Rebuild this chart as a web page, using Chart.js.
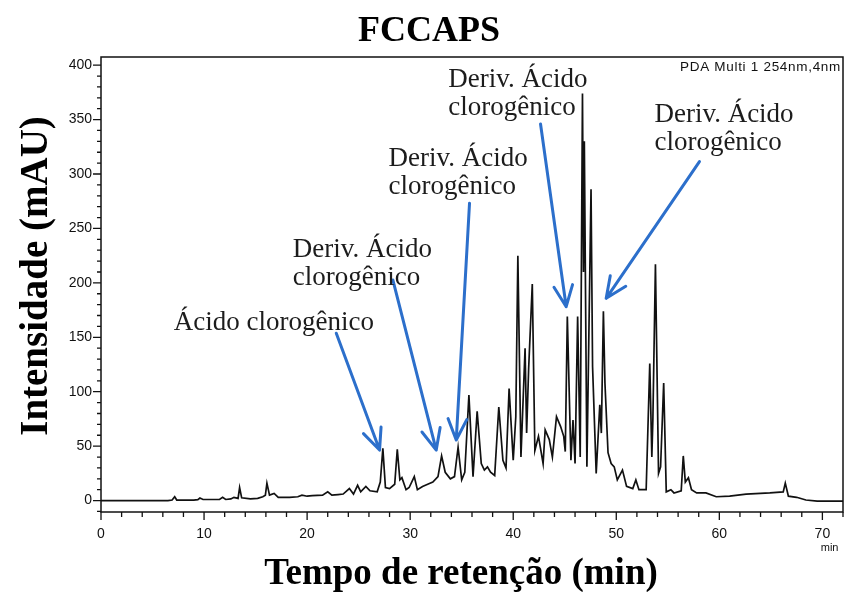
<!DOCTYPE html>
<html>
<head>
<meta charset="utf-8">
<script src="https://cdn.jsdelivr.net/npm/chart.js@4/dist/chart.umd.min.js"></script>
<style>
  html, body { margin: 0; padding: 0; background: #fff; }
  #wrap { width: 845px; height: 592px; }
</style>
</head>
<body>
<div id="wrap"><canvas id="c" width="845" height="592"></canvas></div>
<script>
// Chromatogram trace: retention time (min) and detector response (mAU)
const retentionTime = [
  0, 6.5, 6.9, 7.15, 7.35, 9.0, 9.4, 9.6, 9.9, 11.5, 11.8, 12.1, 12.6, 12.9, 13.3, 13.45, 13.65,
  14.5, 15.2, 15.7, 15.95, 16.1, 16.35, 16.8, 17.2, 18.3, 19.1, 19.5, 20.0, 20.5, 21.5, 22.0, 22.4,
  23.0, 23.5, 24.1, 24.5, 24.9, 25.2, 25.7, 26.1, 26.8, 27.1, 27.35, 27.6, 28.0, 28.5, 28.75, 29.0,
  29.2, 29.6, 29.9, 30.4, 30.7, 31.2, 31.7, 32.2, 32.7, 33.05, 33.4, 33.9, 34.3, 34.65, 35.0, 35.3,
  35.7, 36.1, 36.5, 36.9, 37.2, 37.5, 37.8, 38.2, 38.6, 39.0, 39.3, 39.6, 40.0, 40.25, 40.45, 40.75,
  41.15, 41.3, 41.5, 41.85, 42.1, 42.45, 42.9, 43.1, 43.5, 43.8, 44.2, 44.6, 44.9, 45.05, 45.25, 45.6,
  45.8, 46.0, 46.25, 46.5, 46.72, 46.82, 46.9, 47.15, 47.55, 47.7, 48.05, 48.4, 48.55, 48.75, 48.9,
  49.2, 49.5, 49.8, 50.1, 50.6, 51.0, 51.6, 51.9, 52.2, 52.9, 53.25, 53.45, 53.55, 53.8, 54.1, 54.3,
  54.6, 54.85, 55.3, 55.6, 56.3, 56.5, 56.7, 57.0, 57.3, 57.8, 58.7, 59.7, 61.0, 62.6, 64.9, 66.2,
  66.4, 66.7, 67.5, 68.4, 69.5, 72.0
];
const intensity = [
  0, 0, 0.5, 3.5, 0.5, 0.5, 0.8, 2.3, 1, 1, 3, 1, 1.5, 3, 2, 12, 2.5,
  1.5, 2, 3.5, 5, 16, 5, 6.5, 3, 3, 3.5, 5, 4, 4.5, 5, 8, 5,
  5.5, 6, 11, 6, 14, 8, 13, 9, 8, 17, 48, 12, 11, 15, 47, 19,
  21, 10, 12, 22, 10, 13, 15, 17, 22, 41, 26, 20, 22, 49, 19, 26,
  97, 22, 82, 34, 28, 31, 26, 23, 86, 37, 30, 103, 37, 77, 225, 40,
  140, 62, 122, 199, 46, 59, 34, 65, 56, 40, 77, 68, 59, 45, 169, 37,
  74, 34, 169, 40, 374, 210, 330, 31, 286, 123, 25, 88, 62, 174, 108,
  44, 34, 31, 19, 28, 13, 11, 19, 10, 10, 126, 40, 74, 217, 25, 31,
  108, 8, 10, 7, 9, 41, 17, 21, 10, 7, 7, 3.5, 4, 6, 7, 8,
  16, 4, 3, 0.5, -0.5, -0.5
];

// Labelled axis ticks
const timeTicks = [0, 10, 20, 30, 40, 50, 60, 70];
const mauTicks = [0, 50, 100, 150, 200, 250, 300, 350, 400];

// Peak callouts: text, label anchor (min, mAU), arrow start and arrow tip (min, mAU)
const calloutText = [
  ['Ácido clorogênico'],
  ['Deriv. Ácido', 'clorogênico'],
  ['Deriv. Ácido', 'clorogênico'],
  ['Deriv. Ácido', 'clorogênico'],
  ['Deriv. Ácido', 'clorogênico']
];
const calloutAnchor = [[7.06, 156.7], [18.6, 223.8], [27.9, 307.4], [33.7, 380], [53.7, 347.9]];
const arrowFrom = [[22.83, 153.7], [28.32, 202.7], [35.76, 273.2], [42.65, 346], [58.07, 311.4]];
const arrowTo = [[27.03, 46.4], [32.53, 46.4], [34.47, 55.6], [45.14, 178.1], [49.02, 185.8]];

const SERIF = '"Liberation Serif", "Times New Roman", serif';
const SANS = '"Liberation Sans", Arial, sans-serif';

function drawArrow(ctx, x1, y1, x2, y2) {
  const ang = Math.atan2(y2 - y1, x2 - x1);
  const head = 23, spread = 0.42;
  ctx.beginPath();
  ctx.moveTo(x1, y1);
  ctx.lineTo(x2, y2);
  ctx.moveTo(x2 - head * Math.cos(ang - spread), y2 - head * Math.sin(ang - spread));
  ctx.lineTo(x2, y2);
  ctx.lineTo(x2 - head * Math.cos(ang + spread), y2 - head * Math.sin(ang + spread));
  ctx.stroke();
}

const frameAndNotes = {
  id: 'frameAndNotes',
  afterDraw(chart) {
    const { ctx, chartArea: a, scales: { x, y } } = chart;
    ctx.save();

    // plot frame
    ctx.strokeStyle = '#111';
    ctx.lineWidth = 1.5;
    ctx.strokeRect(a.left, a.top, a.right - a.left, a.bottom - a.top);

    // outward tick marks, long at labelled values
    ctx.lineWidth = 1.3;
    ctx.beginPath();
    for (let v = 0; v <= 72; v += 2) {
      const px = x.getPixelForValue(v);
      const len = v % 10 === 0 ? 8 : 5;
      ctx.moveTo(px, a.bottom);
      ctx.lineTo(px, a.bottom + len);
    }
    for (let v = -10; v <= 400; v += 10) {
      const py = y.getPixelForValue(v);
      const len = v % 50 === 0 ? 8 : 4;
      ctx.moveTo(a.left, py);
      ctx.lineTo(a.left - len, py);
    }
    ctx.stroke();

    // channel label and time unit
    ctx.fillStyle = '#111';
    ctx.font = '13.5px ' + SANS;
    ctx.textAlign = 'left';
    ctx.textBaseline = 'alphabetic';
    ctx.letterSpacing = '0.7px';
    ctx.fillText('PDA Multi 1 254nm,4nm', a.right - 163, a.top + 14);
    ctx.letterSpacing = '0px';
    ctx.font = '11px ' + SANS;
    ctx.textAlign = 'center';
    ctx.fillText('min', x.getPixelForValue(70.7), 551);

    // title and axis titles
    ctx.fillStyle = '#000';
    ctx.font = 'bold 36px ' + SERIF;
    ctx.textAlign = 'center';
    ctx.fillText('FCCAPS', 429, 41);
    ctx.font = 'bold 37px ' + SERIF;
    ctx.fillText('Tempo de retenção (min)', 461, 584);
    ctx.save();
    ctx.translate(47, 276);
    ctx.rotate(-Math.PI / 2);
    ctx.font = 'bold 39px ' + SERIF;
    ctx.fillText('Intensidade (mAU)', 0, 0);
    ctx.restore();

    // peak callouts
    ctx.strokeStyle = '#2c6fcb';
    ctx.lineWidth = 3;
    ctx.lineCap = 'round';
    ctx.lineJoin = 'round';
    for (let i = 0; i < calloutText.length; i++) {
      drawArrow(ctx,
        x.getPixelForValue(arrowFrom[i][0]), y.getPixelForValue(arrowFrom[i][1]),
        x.getPixelForValue(arrowTo[i][0]), y.getPixelForValue(arrowTo[i][1]));
    }
    ctx.fillStyle = '#1c1c1c';
    ctx.font = '27px ' + SERIF;
    ctx.textAlign = 'left';
    for (let i = 0; i < calloutText.length; i++) {
      const lx = x.getPixelForValue(calloutAnchor[i][0]);
      const ly = y.getPixelForValue(calloutAnchor[i][1]);
      calloutText[i].forEach((line, k) => ctx.fillText(line, lx, ly + k * 28.5));
    }
    ctx.restore();
  }
};

new Chart(document.getElementById('c'), {
  type: 'line',
  data: {
    datasets: [{
      data: retentionTime.map((t, i) => ({ x: t, y: intensity[i] })),
      borderColor: '#111',
      borderWidth: 1.7,
      pointRadius: 0,
      tension: 0,
      fill: false
    }]
  },
  options: {
    responsive: false,
    devicePixelRatio: 1,
    animation: false,
    layout: { padding: { left: 0, right: 2, top: 57, bottom: 0 } },
    plugins: { legend: { display: false }, tooltip: { enabled: false }, title: { display: false } },
    scales: {
      x: {
        type: 'linear',
        min: 0,
        max: 72,
        afterBuildTicks(s) { s.ticks = timeTicks.map(v => ({ value: v })); },
        afterFit(s) { s.height = 80; },
        grid: { display: false, drawTicks: true, tickLength: 8 },
        border: { display: false },
        ticks: { padding: 6, maxRotation: 0, autoSkip: false, color: '#111', font: { family: SANS, size: 14 } }
      },
      y: {
        type: 'linear',
        min: -10.5,
        max: 407.5,
        afterBuildTicks(s) { s.ticks = mauTicks.map(v => ({ value: v })); },
        afterFit(s) { s.width = 101; },
        grid: { display: false, drawTicks: true, tickLength: 8 },
        border: { display: false },
        ticks: { padding: 1, autoSkip: false, color: '#111', font: { family: SANS, size: 14 } }
      }
    }
  },
  plugins: [frameAndNotes]
});
</script>
</body>
</html>
